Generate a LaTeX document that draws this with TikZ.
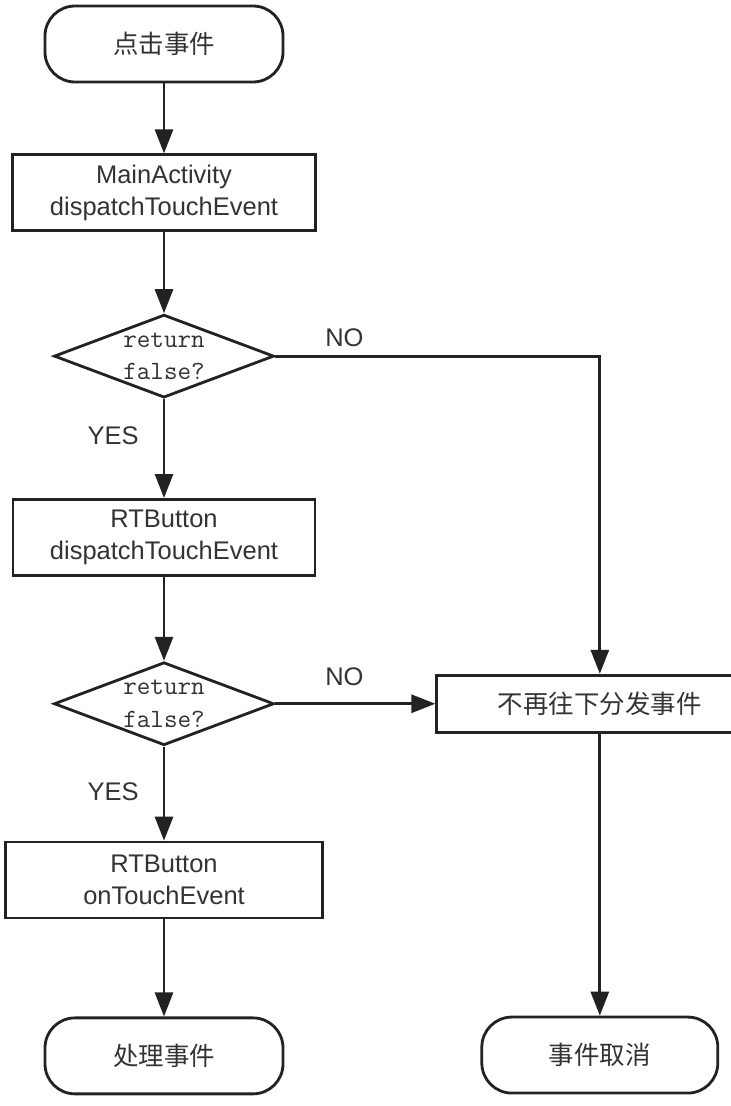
\documentclass[tikz,border=0pt]{standalone}
\usepackage{fontspec}
\setmainfont{Liberation Sans}
\newfontfamily\cjk{Noto Sans CJK SC}
\usepackage{tikz}
\usetikzlibrary{arrows.meta,shapes,positioning}
\definecolor{fcline}{RGB}{34,34,34}
\definecolor{fctext}{RGB}{51,51,51}
\newcommand{\fcsize}{\fontsize{14.5pt}{18pt}\selectfont}
\tikzstyle{terminal} = [rectangle, rounded corners=0.6cm, minimum width=4.76cm, minimum height=1.52cm, draw=fcline, line width=1.6pt, text=fctext, font=\cjk\fcsize]
\tikzstyle{process} = [rectangle, minimum height=1.52cm, text centered, align=center, draw=fcline, line width=1.6pt, text=fctext, font=\fcsize]
\tikzstyle{decision} = [diamond, aspect=2.65, minimum width=4.4cm, minimum height=1.66cm, inner sep=0pt, align=center, draw=fcline, line width=1.6pt, text=fctext, font=\ttfamily\fontsize{15pt}{18.5pt}\selectfont]
\tikzstyle{arrow} = [line width=1.6pt, -{Triangle[length=0.48cm,width=0.36cm]}, color=fcline]
\tikzstyle{lbl} = [text=fctext, font=\fcsize]

\begin{document}
\begin{tikzpicture}
\useasboundingbox (0,0) rectangle (14.6,-22.12);
\node[terminal] (start) at (3.28,-0.88) {点击事件};
\node[process, minimum width=6.06cm, below=1.4cm of start] (mainact) {MainActivity\\dispatchTouchEvent};
\node[decision, below=1.62cm of mainact] (d1) {return\\false?};
\node[process, minimum width=6.04cm, below=1.98cm of d1] (rtdisp) {RTButton\\dispatchTouchEvent};
\node[decision, below=1.68cm of rtdisp] (d2) {return\\false?};
\node[process, minimum width=6.34cm, below=1.88cm of d2] (rttouch) {RTButton\\onTouchEvent};
\node[terminal, below=1.94cm of rttouch] (handle) {处理事件};

\node[process, minimum width=6.52cm, minimum height=1.14cm, font=\cjk\fcsize, right=3.2cm of d2] (stop) {不再往下分发事件};
\node[terminal, minimum width=4.72cm, below=5.64cm of stop] (cancel) {事件取消};

\draw[arrow] (start) -- (mainact);
\draw[arrow] (mainact) -- (d1);
\draw[arrow] (d1) -- (rtdisp);
\draw[arrow] (rtdisp) -- (d2);
\draw[arrow] (d2) -- (rttouch);
\draw[arrow] (rttouch) -- (handle);
\draw[arrow] (d1.east) -| (stop.north);
\draw[arrow] (d2.east) -- (stop.west);
\draw[arrow] (stop) -- (cancel);

\node[lbl] (no1) at ([shift={(1.38,0.37)}]d1.east) {NO};
\node[lbl] (no2) at ([shift={(1.38,0.55)}]d2.east) {NO};
\node[lbl] (yes1) at ([shift={(-1.02,-0.74)}]d1.south) {YES};
\node[lbl] (yes2) at ([shift={(-1.02,-0.9)}]d2.south) {YES};
\end{tikzpicture}
\end{document}
